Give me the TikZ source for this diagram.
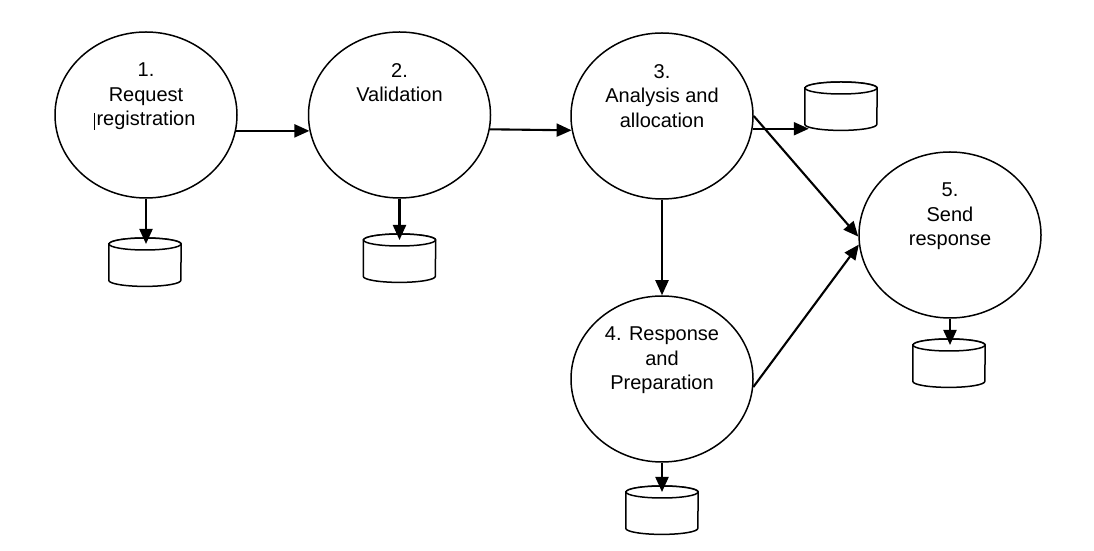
\documentclass[tikz,border=0pt]{standalone}
\usepackage{fontspec}
\setmainfont{Liberation Sans}
\usetikzlibrary{shapes.geometric,arrows.meta,calc}
\tikzset{
  proc/.style={ellipse, draw, line width=1.5pt, minimum width=182pt, minimum height=166pt, inner sep=0pt},
  ptext/.style={anchor=north, align=center, inner sep=0pt, font={\fontsize{20}{24.5}\selectfont}},
  flow/.style={line width=2.1pt, -{Triangle[length=15pt,width=13pt]}},
  cylbox/.style={minimum width=72pt, minimum height=48pt, inner sep=0pt, anchor=north},
  cylline/.style={line width=1.5pt, fill=white}
}
\newcommand\dbcyl[3]{%
  \node[cylbox] (#1) at (#2,#3) {};
  \draw[cylline] ([yshift=-6pt]#1.north west) -- ([yshift=6pt]#1.south west)
     arc[start angle=180, end angle=360, x radius=36pt, y radius=6pt]
     -- ([yshift=-6pt]#1.north east)
     arc[start angle=0, end angle=180, x radius=36pt, y radius=6pt] -- cycle;
  \draw[cylline] ([yshift=-6pt]#1.north) ellipse[x radius=36pt, y radius=6pt];
  \coordinate (#1t) at ([yshift=-6pt]#1.north);
}
\begin{document}
\begin{tikzpicture}[x=1pt,y=1pt]
\useasboundingbox (0,0) rectangle (1094,551);
% processes
\node[proc] (e1) at (146,436) {};
\node[proc] (e2) at (399.5,436) {};
\node[proc] (e3) at (662,435) {};
\node[proc] (e4) at (662,172) {};
\node[proc] (e5) at (950,316) {};
\node[ptext] (t1) at ([yshift=-31.7pt]e1.north) {1.\\Request\\registration};
\node[ptext] (t2) at ([yshift=-31.7pt]e2.north) {2.\\Validation};
\node[ptext] (t3) at ([yshift=-31.7pt]e3.north) {3.\\Analysis and\\allocation};
\node[ptext] (t4) at ([yshift=-31.7pt]e4.north) {4. Response\\and\\Preparation};
\node[ptext] (t5) at ([yshift=-31.7pt]e5.north) {5.\\Send\\response};
% text cursor mark
\draw[line width=0.8pt] (94.5,421) -- (94.5,438);
% data stores
\dbcyl{c1}{145}{313}
\dbcyl{c2}{399.5}{317}
\dbcyl{c3}{841}{469}
\dbcyl{c4}{662}{65}
\dbcyl{c5}{949}{212}
% flows
\draw[flow] (e1.-10.8) -- (e2.190.8);
\draw[flow] (e2.-9.5) -- (e3.189);
\draw[flow] (e3.-8) -- ($(e3.-8 -| c3.west)+(4,0)$);
\draw[flow] (e3.east) -- (e5.181);
\draw[flow] (e4.-5) -- (e5.186);
\draw[flow] (e3.south) -- (e4.north);
\draw[flow] (e1.south) -- (e1.south |- c1t);
\draw[flow] (e2.south) -- (e2.south |- c2t);
\draw[flow] (e4.south) -- (e4.south |- c4t);
\draw[flow] (e5.south) -- (e5.south |- c5t);
\end{tikzpicture}
\end{document}
